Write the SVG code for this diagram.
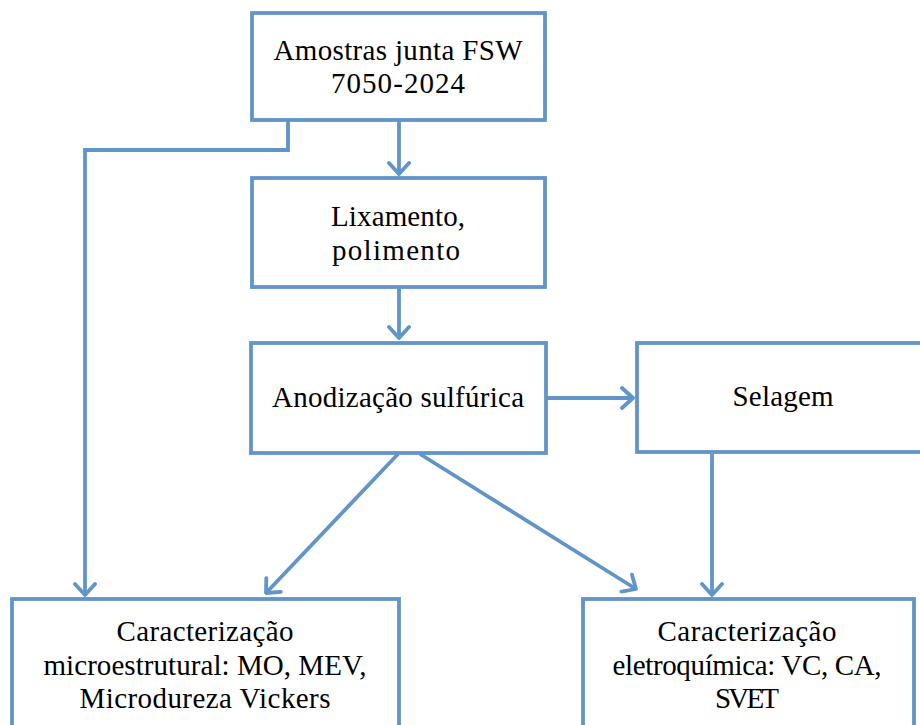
<svg xmlns="http://www.w3.org/2000/svg" width="920" height="725" viewBox="0 0 920 725">
<defs>
<style>
.box{fill:#ffffff;stroke:#6194c9;stroke-width:3.8}
.lbl{font-family:"Liberation Serif","Times New Roman",serif;font-size:29px;fill:#000;text-anchor:middle}
.con{fill:none;stroke:#6194c9;stroke-width:3.8;stroke-linejoin:miter}
</style>
<marker id="arr" markerUnits="userSpaceOnUse" viewBox="-14 -12 16 24" refX="0" refY="0" markerWidth="16" markerHeight="24" orient="auto">
<path d="M-11,-10 L0,0 L-11,10" fill="none" stroke="#6194c9" stroke-width="3.8" stroke-linecap="round" stroke-linejoin="round"/>
</marker>
</defs>
<rect width="920" height="725" fill="#ffffff"/>
<g id="connectors">
<line class="con" x1="399" y1="121" x2="399" y2="174" marker-end="url(#arr)"/>
<polyline class="con" points="288,121 288,150 85,150 85,595" marker-end="url(#arr)"/>
<line class="con" x1="399" y1="288" x2="399" y2="338" marker-end="url(#arr)"/>
<line class="con" x1="546" y1="398" x2="633" y2="398" marker-end="url(#arr)"/>
<line class="con" x1="398" y1="454" x2="266" y2="593" marker-end="url(#arr)"/>
<line class="con" x1="420" y1="454" x2="636" y2="589" marker-end="url(#arr)"/>
<line class="con" x1="712" y1="454" x2="712" y2="595" marker-end="url(#arr)"/>
</g>
<g id="n1">
<rect class="box" x="252" y="13" width="293" height="107"/>
<text class="lbl" x="398" y="60" textLength="249">Amostras junta FSW</text>
<text class="lbl" x="398" y="93" textLength="134">7050-2024</text>
</g>
<g id="n2">
<rect class="box" x="252" y="178" width="293" height="109"/>
<text class="lbl" x="398" y="226" textLength="134">Lixamento,</text>
<text class="lbl" x="396" y="260" textLength="128">polimento</text>
</g>
<g id="n3">
<rect class="box" x="251" y="343" width="295" height="110"/>
<text class="lbl" x="398" y="407" textLength="252">Anodização sulfúrica</text>
</g>
<g id="n4">
<rect class="box" x="637" y="343" width="293" height="109"/>
<text class="lbl" x="783" y="406" textLength="101">Selagem</text>
</g>
<g id="n5">
<rect class="box" x="12" y="599" width="387" height="140"/>
<text class="lbl" x="205" y="641" textLength="177">Caracterização</text>
<text class="lbl" x="205" y="675" textLength="323">microestrutural: MO, MEV,</text>
<text class="lbl" x="205" y="708" textLength="251">Microdureza Vickers</text>
</g>
<g id="n6">
<rect class="box" x="583" y="599" width="331" height="140"/>
<text class="lbl" x="747" y="641" textLength="179">Caracterização</text>
<text class="lbl" x="747" y="675" textLength="269">eletroquímica: VC, CA,</text>
<text class="lbl" x="747" y="708" textLength="64">SVET</text>
</g>
</svg>
